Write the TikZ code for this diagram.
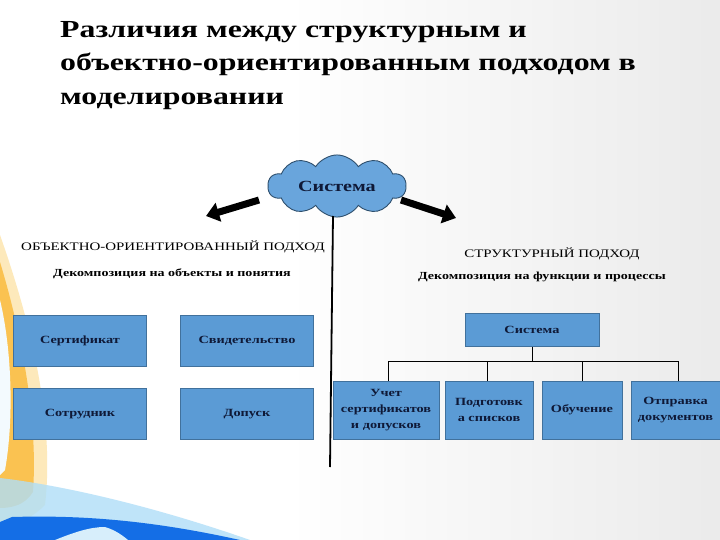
\documentclass[tikz,border=0pt]{standalone}
\usepackage{fontspec}
\setmainfont{Liberation Serif}[FakeStretch=1.3]
\usetikzlibrary{shapes.symbols,arrows.meta}
\definecolor{boxfill}{RGB}{91,155,213}
\definecolor{boxline}{RGB}{65,113,156}
\definecolor{boxtext}{RGB}{15,25,55}
\definecolor{cloudfill}{RGB}{105,165,220}
\definecolor{orangeA}{RGB}{250,190,70}
\definecolor{orangeB}{RGB}{253,228,170}
\definecolor{blueA}{RGB}{20,110,230}
\definecolor{blueB}{RGB}{175,222,248}
\pgfdeclarehorizontalshading{slidebg}{100bp}{color(0bp)=(white); color(45bp)=(white); color(75bp)=(black!8); color(100bp)=(black!24)}
\tikzset{
  box/.style={draw=boxline, line width=0.8pt, fill=boxfill, minimum width=133pt, minimum height=51pt, inner sep=1pt, font=\fontsize{11}{16}\selectfont\bfseries, text=boxtext, align=center},
  subbox/.style={box, minimum height=58pt},
  hdr/.style={font=\fontsize{11.5}{13}\selectfont, inner sep=0pt},
  sub/.style={font=\fontsize{10.8}{12}\selectfont\bfseries, inner sep=0pt},
  bigarrow/.style={line width=7pt, -{Triangle[length=13pt,width=19pt]}},
  tree/.style={line width=0.8pt, draw=black},
  ttl/.style={font=\fontsize{24.5}{33.5}\selectfont\bfseries, align=left, anchor=north west, inner sep=0pt}
}
\begin{document}
\begin{tikzpicture}[x=1pt,y=-1pt]
\useasboundingbox (0,0) rectangle (720,540);
% background
\shade[shading=slidebg] (0,0) rectangle (720,540);
\fill[orangeB, opacity=0.8] (0,235) .. controls (30,320) and (55,420) .. (45,505) .. controls (30,520) and (15,525) .. (0,525) -- cycle;
\fill[orangeA, opacity=0.9] (0,262) .. controls (22,335) and (38,420) .. (33,492) .. controls (25,505) and (12,508) .. (0,508) -- cycle;
\fill[white!85!blueB] (0,300) .. controls (12,350) and (14,420) .. (5,470) -- (0,475) -- cycle;
\fill[blueB, opacity=0.8] (0,478) .. controls (60,485) and (150,505) .. (250,540) -- (0,540) -- cycle;
\fill[blueA] (12,517) .. controls (80,515) and (150,520) .. (240,540) -- (0,540) -- (0,522) -- cycle;
\fill[blueB!50!white] (55,540) .. controls (75,532) and (90,527) .. (105,527) .. controls (115,530) and (122,535) .. (128,540) -- cycle;
% title
\node[ttl] (title) at (60,21) {Различия между структурным и\\объектно-ориентированным подходом в\\моделировании};
% cloud
\node[cloud, cloud puffs=10, cloud puff arc=115, aspect=2.4, draw=boxline!70!black, line width=0.9pt, fill=cloudfill, minimum width=138pt, minimum height=56pt, inner sep=0pt, font=\fontsize{15.5}{16}\selectfont\bfseries, text=boxtext] (sys) at (337,186) {Система};
\coordinate (la0) at (259,200);
\coordinate (la1) at (206,216);
\coordinate (ra0) at (401,200);
\coordinate (ra1) at (456,218);
\draw[bigarrow] (la0) -- (la1);
\draw[bigarrow] (ra0) -- (ra1);
\coordinate (vtop) at (333,216);
\coordinate (vbot) at (330,467);
\draw[line width=1.8pt] (vtop) -- (vbot);
% headers
\node[hdr] (ooh) at (173,247) {ОБЪЕКТНО-ОРИЕНТИРОВАННЫЙ ПОДХОД};
\node[sub] (oos) at (172,274) {Декомпозиция на объекты и понятия};
\node[hdr] (sth) at (552,254) {СТРУКТУРНЫЙ ПОДХОД};
\node[sub] (sts) at (542,277) {Декомпозиция на функции и процессы};
% left boxes
\node[box] (b1) at (80,341) {Сертификат};
\node[box] (b2) at (247,341) {Свидетельство};
\node[box] (b3) at (80,414) {Сотрудник};
\node[box] (b4) at (247,414) {Допуск};
% right tree
\node[box, minimum width=134pt, minimum height=33pt] (root) at (532,330) {Система};
\node[subbox, minimum width=106pt] (c1) at (386,410) {Учет\\сертификатов\\и допусков};
\node[subbox, minimum width=88pt] (c2) at (489,410) {Подготовк\\а списков};
\node[subbox, minimum width=80pt] (c3) at (582,410) {Обучение};
\node[subbox, minimum width=89pt] (c4) at (675.5,410) {Отправка\\документов};
\coordinate (bus) at (532,361);
\draw[tree] (root.south) -- (bus);
\draw[tree] ([xshift=2pt]c1.north) -- ([xshift=2pt]c1.north |- bus) -- ([xshift=2.5pt]c4.north |- bus) -- ([xshift=2.5pt]c4.north);
\draw[tree] ([xshift=-2pt]c2.north) -- ([xshift=-2pt]c2.north |- bus);
\draw[tree] (c3.north) -- (c3.north |- bus);
\end{tikzpicture}
\end{document}
